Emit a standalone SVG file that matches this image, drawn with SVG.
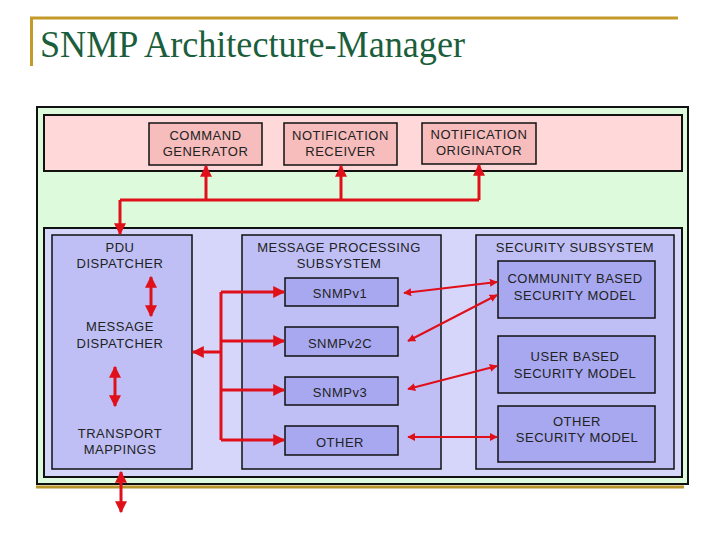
<svg xmlns="http://www.w3.org/2000/svg" width="720" height="540" viewBox="0 0 720 540">
<defs>
<style>
.t{font-family:"Liberation Sans",Arial,sans-serif;font-size:13px;letter-spacing:0.5px;fill:#222;text-anchor:middle}
.pk{fill:#F7BCBC;stroke:#111;stroke-width:1.5}
.sub{fill:#BFBFF6;stroke:#111;stroke-width:1.5}
.in{fill:#A8A8F0;stroke:#111;stroke-width:1.5}
.r{stroke:#E0101A;stroke-width:3;fill:none}
.rt{stroke:#E0101A;stroke-width:2;fill:none}
</style>
<marker id="ah" viewBox="0 0 10 10" refX="9" refY="5" markerWidth="5" markerHeight="4" markerUnits="strokeWidth" orient="auto-start-reverse"><path d="M0,0 L10,5 L0,10 z" fill="#E0101A"/></marker>
<marker id="ahs" viewBox="0 0 10 10" refX="9" refY="5" markerWidth="4" markerHeight="4" markerUnits="strokeWidth" orient="auto-start-reverse"><path d="M0,0 L10,5 L0,10 z" fill="#E0101A"/></marker>
</defs>
<rect width="720" height="540" fill="#fff"/>
<g id="title">
<path d="M30,18 H678 M31.5,17 V66" stroke="#C49A2A" stroke-width="3" fill="none"/>
<text x="40" y="57" font-family="'Liberation Serif','Times New Roman',serif" font-size="38" fill="#1B5E3B" textLength="425" lengthAdjust="spacingAndGlyphs">SNMP Architecture-Manager</text>
</g>
<g id="frame">
<rect x="37" y="107" width="651" height="377" fill="#DDFADD" stroke="#111" stroke-width="2"/>
<path d="M36,487 H684" stroke="#B8962A" stroke-width="3"/>
</g>
<g id="apps">
<rect x="44" y="115" width="638" height="56" fill="#FFD9D9" stroke="#111" stroke-width="2"/>
</g>
<g id="engine">
<rect x="44" y="228" width="638" height="249" fill="#D6D6FA" stroke="#111" stroke-width="2"/>
</g>
<g id="command-generator"><rect class="pk" x="149" y="123" width="113" height="42"/><text class="t" x="205.5" y="140">COMMAND</text><text class="t" x="205.5" y="156">GENERATOR</text></g>
<g id="notification-receiver"><rect class="pk" x="284" y="123" width="113" height="42"/><text class="t" x="340.5" y="140">NOTIFICATION</text><text class="t" x="340.5" y="156">RECEIVER</text></g>
<g id="notification-originator"><rect class="pk" x="422" y="123" width="114" height="41"/><text class="t" x="479" y="139">NOTIFICATION</text><text class="t" x="479" y="155">ORIGINATOR</text></g>
<g id="dispatcher"><rect class="sub" x="52" y="235" width="140" height="234"/>
<text class="t" x="120" y="252">PDU</text><text class="t" x="120" y="268">DISPATCHER</text>
<text class="t" x="120" y="331">MESSAGE</text><text class="t" x="120" y="348">DISPATCHER</text>
<text class="t" x="120" y="438">TRANSPORT</text><text class="t" x="120" y="454">MAPPINGS</text></g>
<g id="message-processing"><rect class="sub" x="242" y="235" width="199" height="234"/><text class="t" x="339" y="252">MESSAGE PROCESSING</text><text class="t" x="339" y="268">SUBSYSTEM</text></g>
<g id="snmpv1"><rect class="in" x="285" y="278" width="113" height="28"/><text class="t" x="340" y="298">SNMPv1</text></g>
<g id="snmpv2c"><rect class="in" x="285" y="327" width="113" height="29"/><text class="t" x="340" y="348">SNMPv2C</text></g>
<g id="snmpv3"><rect class="in" x="285" y="377" width="113" height="28"/><text class="t" x="340" y="397">SNMPv3</text></g>
<g id="other"><rect class="in" x="285" y="426" width="113" height="29"/><text class="t" x="340" y="447">OTHER</text></g>
<g id="security-subsystem"><rect class="sub" x="476" y="235" width="198" height="234"/><text class="t" x="575" y="252">SECURITY SUBSYSTEM</text></g>
<g id="community-security"><rect class="in" x="498" y="261" width="157" height="57"/><text class="t" x="575" y="283">COMMUNITY BASED</text><text class="t" x="575" y="300">SECURITY MODEL</text></g>
<g id="user-security"><rect class="in" x="498" y="336" width="157" height="57"/><text class="t" x="575" y="361">USER BASED</text><text class="t" x="575" y="378">SECURITY MODEL</text></g>
<g id="other-security"><rect class="in" x="498" y="406" width="157" height="56"/><text class="t" x="577" y="426">OTHER</text><text class="t" x="577" y="442">SECURITY MODEL</text></g>
<g id="connectors">
<path class="r" d="M120,200 H479"/>
<path class="r" d="M120,200 V234" marker-end="url(#ah)"/>
<path class="r" d="M206,200 V166" marker-end="url(#ah)"/>
<path class="r" d="M341,200 V166" marker-end="url(#ah)"/>
<path class="r" d="M479,200 V165" marker-end="url(#ah)"/>
<path class="r" d="M151,277 V316" marker-start="url(#ah)" marker-end="url(#ah)"/>
<path class="r" d="M115,367 V406" marker-start="url(#ah)" marker-end="url(#ah)"/>
<path class="r" d="M121,472 V512" marker-start="url(#ah)" marker-end="url(#ah)"/>
<path class="r" d="M221,292 V440"/>
<path class="r" d="M221,292 H284" marker-end="url(#ah)"/>
<path class="r" d="M221,341 H284" marker-end="url(#ah)"/>
<path class="r" d="M221,390 H284" marker-end="url(#ah)"/>
<path class="r" d="M221,440 H284" marker-end="url(#ah)"/>
<path class="r" d="M221,352 H193" marker-end="url(#ah)"/>
<path class="rt" d="M404,293 L497,282" marker-start="url(#ahs)" marker-end="url(#ahs)"/>
<path class="rt" d="M408,341 L497,295" marker-start="url(#ahs)" marker-end="url(#ahs)"/>
<path class="rt" d="M408,389 L497,366" marker-start="url(#ahs)" marker-end="url(#ahs)"/>
<path class="rt" d="M408,437 L497,437" stroke-width="1.5" marker-start="url(#ahs)" marker-end="url(#ahs)"/>
</g>
</svg>
